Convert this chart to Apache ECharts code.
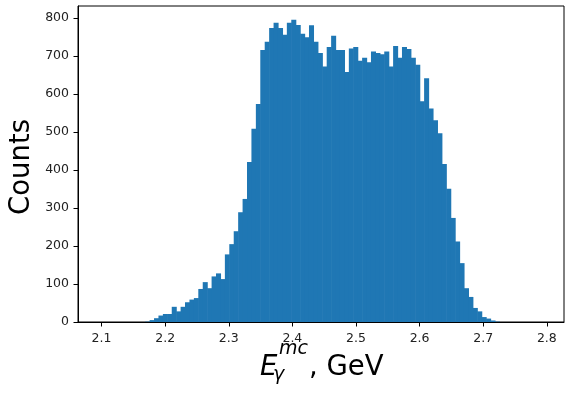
<!DOCTYPE html>
<html>
<head>
<meta charset="utf-8">
<script src="https://cdn.jsdelivr.net/npm/echarts@6/dist/echarts.min.js"></script>
<style>html,body{margin:0;padding:0;background:#fff;}#c{width:565px;height:394px;}</style>
</head>
<body>
<div id="c"></div>
<script>
// Histogram data: 100 bins
const binStart = 2.099;
const binWidth = 0.00696;
const counts = [
  0,0,0,0,0,0,0,0,0,0,
  1,5,10,17,21,21,40,28,40,52,
  59,63,87,105,89,120,128,113,178,205,
  239,289,324,421,509,574,716,738,774,788,
  774,756,788,796,782,759,750,781,738,708,
  673,724,754,716,716,658,720,724,688,696,
  684,712,708,705,712,673,727,696,724,719,
  696,677,581,642,562,531,497,416,351,274,
  212,155,89,66,37,28,13,9,4,1,
  0,0,0,0,0,0,0,0,0,0
];
const xTicks = [2.1, 2.2, 2.3, 2.4, 2.5, 2.6, 2.7, 2.8];
const yTicks = [0, 100, 200, 300, 400, 500, 600, 700, 800];
const yLabel = 'Counts';

const data = counts.map((c, i) => [binStart + i * binWidth, binStart + (i + 1) * binWidth, c]);
const barColor = '#1f77b4';
const font = 'DejaVu Sans';

const chart = echarts.init(document.getElementById('c'), null, {renderer: 'canvas'});
chart.setOption({
  animation: false,
  backgroundColor: '#fff',
  grid: {left: 78, top: 6, width: 486, height: 316, show: true, borderColor: '#000', borderWidth: 1, backgroundColor: 'transparent'},
  xAxis: {
    type: 'value', min: 2.063, max: 2.827,
    axisLine: {show: true, onZero: false, lineStyle: {color: '#000', width: 1}},
    axisTick: {show: true, length: 4.5, lineStyle: {color: '#000', width: 1}, customValues: xTicks},
    axisLabel: {customValues: xTicks, formatter: v => v.toFixed(1), color: '#222', fontFamily: font, fontSize: 12.5, margin: 10},
    splitLine: {show: false}
  },
  yAxis: {
    type: 'value', min: 0, max: 832,
    axisLine: {show: true, lineStyle: {color: '#000', width: 1}},
    axisTick: {show: true, length: 4.5, lineStyle: {color: '#000', width: 1}, customValues: yTicks},
    axisLabel: {customValues: yTicks, formatter: v => String(Math.round(v)), color: '#222', fontFamily: font, fontSize: 12.5, margin: 9},
    splitLine: {show: false}
  },
  series: [{
    type: 'custom',
    data: data,
    encode: {x: [0, 1], y: 2},
    z: 1,
    renderItem: function (params, api) {
      const x0 = api.value(0), x1 = api.value(1), y = api.value(2);
      if (!y) return null;
      const p0 = api.coord([x0, y]);
      const p1 = api.coord([x1, 0]);
      return {
        type: 'rect',
        shape: {x: p0[0], y: p0[1], width: p1[0] - p0[0] + 0.6, height: p1[1] - p0[1]},
        style: {fill: barColor}
      };
    }
  }],
  graphic: [
    {type: 'text', x: 22, y: 167, rotation: Math.PI / 2,
     style: {text: yLabel, fontFamily: font, fontSize: 27.5, fill: '#000', align: 'center', verticalAlign: 'middle'}},
    {type: 'text', x: 260, y: 367.5,
     style: {text: 'E', fontFamily: font, fontStyle: 'italic', fontSize: 27.5, fill: '#000', align: 'left', verticalAlign: 'middle'}},
    {type: 'text', x: 279, y: 349.5,
     style: {text: 'mc', fontFamily: font, fontStyle: 'italic', fontSize: 19, fill: '#000', align: 'left', verticalAlign: 'middle'}},
    {type: 'text', x: 273, y: 375,
     style: {text: 'γ', fontFamily: font, fontStyle: 'italic', fontSize: 19, fill: '#000', align: 'left', verticalAlign: 'middle'}},
    {type: 'text', x: 309, y: 367.5,
     style: {text: ', GeV', fontFamily: font, fontSize: 27.5, fill: '#000', align: 'left', verticalAlign: 'middle'}}
  ]
});
</script>
</body>
</html>
